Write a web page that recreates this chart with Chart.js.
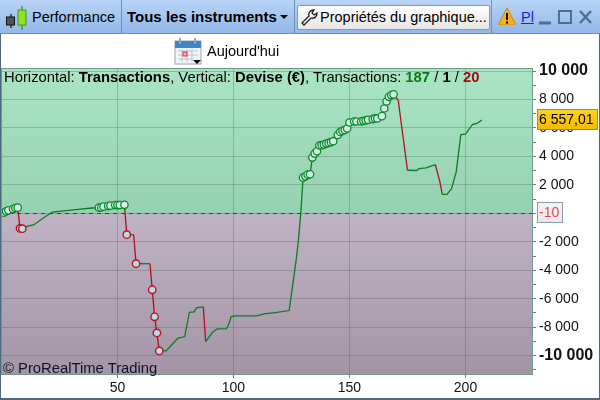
<!DOCTYPE html>
<html><head><meta charset="utf-8">
<script src="https://cdn.jsdelivr.net/npm/chart.js@4/dist/chart.umd.min.js"></script>
<style>
html,body{margin:0;padding:0;background:#fff;overflow:hidden}
#w{position:relative;width:600px;height:400px;font-family:"Liberation Sans",Arial,sans-serif;color:#000;overflow:hidden}
#c{position:absolute;left:0;top:0}
.t{position:absolute;white-space:nowrap;font-size:14.5px;line-height:16px}
.bar{position:absolute;left:0;top:0;width:600px;height:33px;background:linear-gradient(#b8d4f6,#93b7e8);border-bottom:1px solid #6a8cb8;box-sizing:content-box}
.sep{position:absolute;top:0;width:1px;height:33px;background:#6f8fbc}
.btn{position:absolute;left:297px;top:5px;width:191px;height:23px;background:linear-gradient(#fff,#e6e6e6);border:1px solid #8c97a8;border-radius:2px}
.fr{position:absolute;background:#4f6a7e}
svg{position:absolute}
</style></head><body>
<div id="w">
<canvas id="c" width="600" height="400"></canvas>
<div class="bar"></div>
<div class="sep" style="left:121px"></div><div class="sep" style="left:294px"></div><div class="sep" style="left:491px"></div>
<div class="btn"></div>
<svg style="left:5px;top:6px" width="24" height="24" viewBox="0 0 24 24"><path d="M6 8v14" stroke="#222" stroke-width="1.4"/><rect x="1.5" y="11" width="8" height="8" fill="#555" stroke="#111"/><path d="M17 0v24" stroke="#3a9a12" stroke-width="1.4"/><rect x="13" y="4" width="8" height="15" fill="#8fe02a" stroke="#3a9a12"/></svg>
<div class="t" style="left:32px;top:9px">Performance</div>
<div class="t" style="left:127px;top:9px;font-size:15px;font-weight:bold">Tous les instruments</div>
<svg style="left:280px;top:15px" width="8" height="5"><path d="M0 0h8l-4 4z" fill="#000"/></svg>
<svg style="left:300px;top:8px" width="18" height="18" viewBox="0 0 18 18"><path d="M2 15l7-7c-1-3 1-6 5-6l-2 3 2 2 3-2c0 4-3 6-6 5l-7 7z" fill="#fff" stroke="#222" stroke-width="1.3"/></svg>
<div class="t" style="left:320px;top:9px">Propriétés du graphique...</div>
<svg style="left:498px;top:8px" width="18" height="17"><path d="M9 0l9 17H0z" fill="#f5b21c" stroke="#c98a10"/><path d="M9 5v7M9 13.5v2" stroke="#000" stroke-width="2"/></svg>
<div class="t" style="left:521px;top:9px;color:#2323e0;text-decoration:underline">Pl</div>
<svg style="left:538px;top:8px" width="56" height="18"><path d="M1 15h12" stroke="#4d6f94" stroke-width="3"/><rect x="21" y="3" width="12" height="12" fill="none" stroke="#4d6f94" stroke-width="2"/><path d="M42 3l11 12M53 3L42 15" stroke="#4d6f94" stroke-width="2.4"/></svg>
<svg style="left:174px;top:37px" width="28" height="28"><rect x="1" y="4" width="26" height="23" fill="#f2f4f7" stroke="#9aa6b4"/><rect x="1" y="4" width="26" height="7" fill="#3f86c6"/><path d="M6 1v6M21 1v6" stroke="#9aa6b4" stroke-width="2"/><path d="M4 14h20M4 18h20M4 22h14M8 12v13M13 12v13M18 12v13" stroke="#b8c6d6"/><rect x="9" y="15" width="4" height="4" fill="#f6b0b0" stroke="#e03030"/><path d="M19 23h8l-4 4z" fill="#000"/></svg>
<div class="t" style="left:207px;top:43px">Aujourd'hui</div>
<div class="t" style="left:4px;top:69px;font-size:14.8px">Horizontal: <b>Transactions</b>, Vertical: <b>Devise (€)</b>, Transactions: <b style="color:#0a7a14">187</b> / <b>1</b> / <b style="color:#a50a14">20</b></div>
<div class="t" style="left:3px;top:360px;font-size:14.8px;color:#10102a">© ProRealTime Trading</div>
<div class="fr" style="left:0;top:34px;width:1px;height:366px"></div>
<div class="fr" style="left:599px;top:34px;width:1px;height:366px"></div>
<div class="fr" style="left:0;top:398px;width:600px;height:2px"></div>
</div>
<script>
const tradeIndex=[1,2,3,5,6,7,8,9,11,14,18,22,28,34,39,42,43,44,46,47,49,50,51,53,54,57,58,64,65,66,67,68,71,74,76,79,81,83,84,87,88,91,93,97,98,99,101,110,113,118,124,127,128,129,130,131,132,133,134,135,136,137,138,139,140,141,142,143,145,146,147,148,149,150,152,153,155,156,157,158,160,161,162,164,165,166,167,168,169,171,173,175,179,180,183,187,189,190,192,194,196,198,200,203,205,207];
const equity=[50,140,210,300,375,400,-1060,-1080,-915,-795,-330,90,190,300,375,400,420,470,515,540,585,585,585,600,-1500,-1500,-3540,-3540,-5370,-7270,-8400,-9670,-9670,-9130,-8780,-8660,-6950,-6920,-6640,-6570,-9010,-8360,-8117,-8100,-7770,-7250,-7200,-7200,-7060,-6970,-6830,-3310,-1900,-20,2510,2600,2720,2745,3920,4200,4365,4770,4790,4835,4905,4950,5000,5070,5510,5720,5795,5865,5960,6385,6455,6455,6455,6500,6525,6570,6620,6670,6670,6830,7370,7860,8190,8310,8360,7955,5490,3030,3010,3150,3190,3430,2200,1340,1340,1740,2910,5540,5560,6245,6315,6557];
const winIndex=[1,2,3,5,6,7,42,43,44,46,47,49,50,51,53,130,131,132,133,134,135,136,137,138,139,140,141,142,143,145,146,147,148,149,150,152,153,155,156,157,158,160,161,162,164,165,166,167,168,169];
const winEquity=[50,140,210,300,375,400,400,420,470,515,540,585,585,585,600,2510,2600,2720,2745,3920,4200,4365,4770,4790,4835,4905,4950,5000,5070,5510,5720,5795,5865,5960,6385,6455,6455,6455,6500,6525,6570,6620,6670,6670,6830,7370,7860,8190,8310,8360];
const lossIndex=[8,9,54,58,65,66,67,68];
const lossEquity=[-1060,-1080,-1500,-3540,-5370,-7270,-8400,-9670];
const xTicks=[50,100,150,200];
const yTicks=[10000,9000,8000,7000,6000,5000,4000,3000,2000,1000,0,-1000,-2000,-3000,-4000,-5000,-6000,-7000,-8000,-9000,-10000,-11000];
const yMin=-11360,yMax=10215,xMin=-0.2,xMax=229.1;
const lastValue=6557.01,lastLabel="6 557,01";
const zeroValue=-10,zeroLabel="-10";
const pairs=(a,b)=>a.map((x,i)=>({x,y:b[i]}));
const fmt=v=>{const s=Math.abs(v).toString().replace(/\B(?=(\d{3})+$)/g,' ');return (v<0?'-':'')+s};
const bold=c=>c.tick&&Math.abs(c.tick.value)===10000;
const bg={id:'bg',beforeDraw(ch){const {ctx,chartArea:a,scales:{y}}=ch;const z=y.getPixelForValue(zeroValue);
 let g=ctx.createLinearGradient(0,a.top,0,z);g.addColorStop(0,'#aae4c5');g.addColorStop(1,'#95d2b1');ctx.fillStyle=g;ctx.fillRect(a.left,a.top,a.width,z-a.top);
 g=ctx.createLinearGradient(0,z,0,a.bottom);g.addColorStop(0,'#c0b3c3');g.addColorStop(1,'#a395a6');ctx.fillStyle=g;ctx.fillRect(a.left,z,a.width,a.bottom-z);}};
const tags={id:'tags',afterDraw(ch){const {ctx,chartArea:a,scales:{y}}=ch;
 ctx.save();ctx.strokeStyle='#6f9a88';ctx.lineWidth=1;ctx.strokeRect(a.left+.5,a.top+.5,a.width-1,a.height-1);
 const box=(v,label,x,w,f1,f2,st,col)=>{const p=Math.round(y.getPixelForValue(v));const g=ctx.createLinearGradient(0,p-10,0,p+10);g.addColorStop(0,f1);g.addColorStop(1,f2);ctx.fillStyle=g;ctx.fillRect(x+.5,p-10.5,w,20);ctx.strokeStyle=st;ctx.strokeRect(x+.5,p-10.5,w,20);ctx.fillStyle=col;ctx.font='14px "Liberation Sans"';ctx.textBaseline='middle';ctx.textAlign='left';ctx.fillText(label,x+2,p+.5);};
 box(lastValue,lastLabel,537,60,'#ffd21a','#f5b800','#a58a30','#000');
 box(zeroValue,zeroLabel,537,25,'#f4f4f4','#e8e8e8','#8a9cb0','#e04a50');
 ctx.restore();}};
new Chart(document.getElementById('c'),{type:'scatter',
 data:{datasets:[
  {data:[{x:xMin,y:zeroValue},{x:xMax,y:zeroValue}],showLine:true,pointRadius:0,borderColor:'#e0845a',borderWidth:1,order:5},
  {data:[{x:xMin,y:zeroValue},{x:xMax,y:zeroValue}],showLine:true,pointRadius:0,borderColor:'#2030d8',borderWidth:1,borderDash:[4,4],order:4},
  {data:pairs(tradeIndex,equity),showLine:true,pointRadius:0,borderWidth:1.3,borderColor:'#0a7d1f',
   segment:{borderColor:c=>c.p1.parsed.y<c.p0.parsed.y-30?'#b0101f':'#0a7d1f'},order:3},
  {data:pairs(winIndex,winEquity),pointRadius:3.7,pointBorderWidth:1.3,pointBorderColor:'#0b8a2a',pointBackgroundColor:'#d6efe8',order:2},
  {data:pairs(lossIndex,lossEquity),pointRadius:3.7,pointBorderWidth:1.4,pointBorderColor:'#c0101f',pointBackgroundColor:'#b8dbe6',order:1}
 ]},
 options:{responsive:false,animation:false,events:[],
  layout:{autoPadding:false,padding:{left:1,top:68,right:0,bottom:0}},
  plugins:{legend:{display:false},tooltip:{enabled:false},title:{display:false}},
  scales:{
   x:{type:'linear',min:xMin,max:xMax,afterFit:s=>{s.height=25},afterBuildTicks:s=>{s.ticks=xTicks.map(v=>({value:v}))},
    border:{display:false},grid:{color:'rgba(70,80,80,.28)',tickColor:'#777',tickLength:3},
    ticks:{autoSkip:false,maxRotation:0,padding:2,color:'#111',font:{family:'"Liberation Sans"',size:14},callback:v=>String(v)}},
   y:{type:'linear',position:'right',min:yMin,max:yMax,afterFit:s=>{s.width=67},afterBuildTicks:s=>{s.ticks=yTicks.map(v=>({value:v}))},
    border:{display:false},
    grid:{color:c=>c.tick&&c.tick.value%2000===0?'rgba(70,80,80,.28)':'rgba(0,0,0,0)',tickColor:'#777',tickLength:3},
    ticks:{autoSkip:false,padding:3,crossAlign:'near',color:'#111',
     font:c=>({family:'"Liberation Sans"',size:bold(c)?16:14,weight:bold(c)?'bold':'normal'}),
     callback:v=>v%2000===0&&v!==0?fmt(v):''}}
  }},
 plugins:[bg,tags]});
</script>
</body></html>
